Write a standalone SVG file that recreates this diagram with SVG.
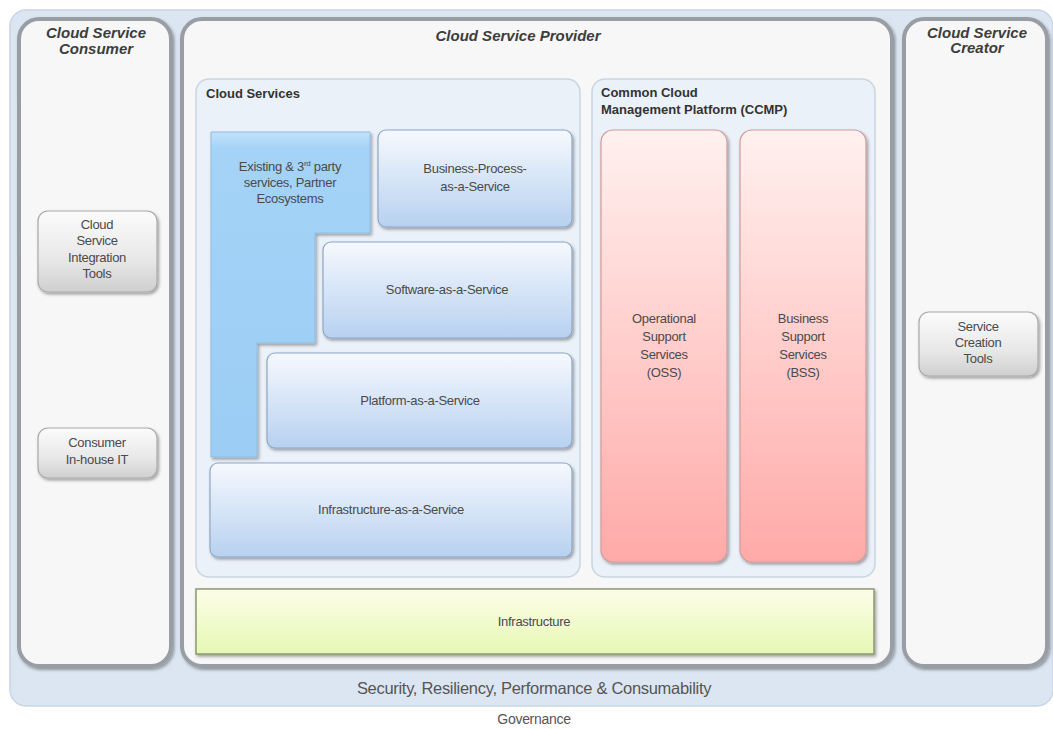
<svg xmlns="http://www.w3.org/2000/svg" width="1053" height="729" viewBox="0 0 1053 729">
<defs>
<linearGradient id="gBlue" x1="0" y1="0" x2="0" y2="1"><stop offset="0" stop-color="#f6f9fe"/><stop offset="1" stop-color="#b7d1f0"/></linearGradient>
<linearGradient id="gRed" x1="0" y1="0" x2="0" y2="1"><stop offset="0" stop-color="#fff1ef"/><stop offset="1" stop-color="#ffaaa8"/></linearGradient>
<linearGradient id="gYel" x1="0" y1="0" x2="0" y2="1"><stop offset="0" stop-color="#fdfde9"/><stop offset="1" stop-color="#e6f8b4"/></linearGradient>
<linearGradient id="gGray" x1="0" y1="0" x2="0" y2="1"><stop offset="0" stop-color="#fbfbfb"/><stop offset="0.6" stop-color="#e8e8e8"/><stop offset="1" stop-color="#cfcfcf"/></linearGradient>
<linearGradient id="gL" x1="0" y1="0" x2="0" y2="1"><stop offset="0" stop-color="#c2e2fb"/><stop offset="0.05" stop-color="#a4d3f7"/><stop offset="1" stop-color="#9ccdf4"/></linearGradient>
<filter id="sh" x="-10%" y="-10%" width="120%" height="120%"><feDropShadow dx="1.5" dy="2" stdDeviation="1.5" flood-color="#000" flood-opacity="0.35"/></filter>
</defs>
<style>
.panel{fill:#f7f7f7;stroke:#989ea4;stroke-width:4}
.sub{fill:#ebf1f9;stroke:#c9d5e3;stroke-width:1.5}
.svc{fill:url(#gBlue);stroke:#8ea6c6;stroke-width:1.2}
.red{fill:url(#gRed);stroke:#cf9c9c;stroke-width:1.2}
.btn{fill:url(#gGray);stroke:#a9a9a9;stroke-width:1.2}
.t{font-family:"Liberation Sans",Arial,sans-serif;font-size:13px;fill:#4a4a4a;text-anchor:middle;letter-spacing:-0.3px}
.h{font-family:"Liberation Sans",Arial,sans-serif;font-size:15px;font-weight:bold;font-style:italic;fill:#3d3d3d;text-anchor:middle}
.b{font-family:"Liberation Sans",Arial,sans-serif;font-size:13px;font-weight:bold;fill:#333}
</style>
<rect width="1053" height="729" fill="#ffffff"/>
<g id="governance-band">
<rect x="10" y="10" width="1043" height="696" rx="16" fill="#dce6f2" stroke="#c8d5e4" stroke-width="1.5"/>
<text class="t" x="534" y="694" style="font-size:16.5px;fill:#555">Security, Resiliency, Performance &amp; Consumability</text>
<text class="t" x="534" y="724" style="font-size:14px;fill:#555">Governance</text>
</g>
<g id="consumer">
<rect class="panel" x="19" y="19" width="152" height="647" rx="20" filter="url(#sh)"/>
<text class="h" x="96" y="38">Cloud Service</text>
<text class="h" x="96" y="54">Consumer</text>
</g>
<g id="integration-tools">
<rect class="btn" x="38" y="211" width="119" height="81" rx="10" filter="url(#sh)"/>
<text class="t" x="97" y="229">Cloud</text>
<text class="t" x="97" y="245">Service</text>
<text class="t" x="97" y="262">Integration</text>
<text class="t" x="97" y="278">Tools</text>
</g>
<g id="inhouse-it">
<rect class="btn" x="38" y="428" width="119" height="50" rx="10" filter="url(#sh)"/>
<text class="t" x="97" y="447">Consumer</text>
<text class="t" x="97" y="464">In-house IT</text>
</g>
<g id="provider">
<rect class="panel" x="182" y="19" width="710" height="647" rx="20" filter="url(#sh)"/>
<text class="h" x="518" y="41">Cloud Service Provider</text>
</g>
<g id="cloud-services">
<rect class="sub" x="196" y="79" width="384" height="498" rx="13"/>
<text class="b" x="206" y="98">Cloud Services</text>
</g>
<g id="existing">
<path d="M211 132 H370 V233 H315 V343 H257 V457 H211 Z" fill="url(#gL)" stroke="#8fbde3" stroke-width="1" filter="url(#sh)"/>
<text class="t" x="290" y="171">Existing &amp; 3<tspan dy="-5" style="font-size:8px">rd</tspan><tspan dy="5"> party</tspan></text>
<text class="t" x="290" y="187">services, Partner</text>
<text class="t" x="290" y="203">Ecosystems</text>
</g>
<g id="bpaas">
<rect class="svc" x="378" y="130" width="194" height="97" rx="8" filter="url(#sh)"/>
<text class="t" x="475" y="173">Business-Process-</text>
<text class="t" x="475" y="191">as-a-Service</text>
</g>
<g id="saas">
<rect class="svc" x="323" y="242" width="249" height="96" rx="8" filter="url(#sh)"/>
<text class="t" x="447" y="294">Software-as-a-Service</text>
</g>
<g id="paas">
<rect class="svc" x="267" y="353" width="305" height="95" rx="8" filter="url(#sh)"/>
<text class="t" x="420" y="405">Platform-as-a-Service</text>
</g>
<g id="iaas">
<rect class="svc" x="210" y="463" width="362" height="94" rx="8" filter="url(#sh)"/>
<text class="t" x="391" y="514">Infrastructure-as-a-Service</text>
</g>
<g id="ccmp">
<rect class="sub" x="592" y="79" width="283" height="498" rx="13"/>
<text class="b" x="601" y="97">Common Cloud</text>
<text class="b" x="601" y="114">Management Platform (CCMP)</text>
</g>
<g id="oss">
<rect class="red" x="601" y="130" width="126" height="432" rx="12" filter="url(#sh)"/>
<text class="t" x="664" y="323">Operational</text>
<text class="t" x="664" y="341">Support</text>
<text class="t" x="664" y="359">Services</text>
<text class="t" x="664" y="377">(OSS)</text>
</g>
<g id="bss">
<rect class="red" x="740" y="130" width="126" height="432" rx="12" filter="url(#sh)"/>
<text class="t" x="803" y="323">Business</text>
<text class="t" x="803" y="341">Support</text>
<text class="t" x="803" y="359">Services</text>
<text class="t" x="803" y="377">(BSS)</text>
</g>
<g id="infrastructure">
<rect x="196" y="589" width="678" height="65" fill="url(#gYel)" stroke="#8a9870" stroke-width="1.5" filter="url(#sh)"/>
<text class="t" x="534" y="626">Infrastructure</text>
</g>
<g id="creator">
<rect class="panel" x="904" y="19" width="143" height="647" rx="20" filter="url(#sh)"/>
<text class="h" x="977" y="38">Cloud Service</text>
<text class="h" x="977" y="53">Creator</text>
</g>
<g id="creation-tools">
<rect class="btn" x="919" y="312" width="119" height="64" rx="10" filter="url(#sh)"/>
<text class="t" x="978" y="331">Service</text>
<text class="t" x="978" y="347">Creation</text>
<text class="t" x="978" y="363">Tools</text>
</g>
<g id="connectors"></g>
</svg>
